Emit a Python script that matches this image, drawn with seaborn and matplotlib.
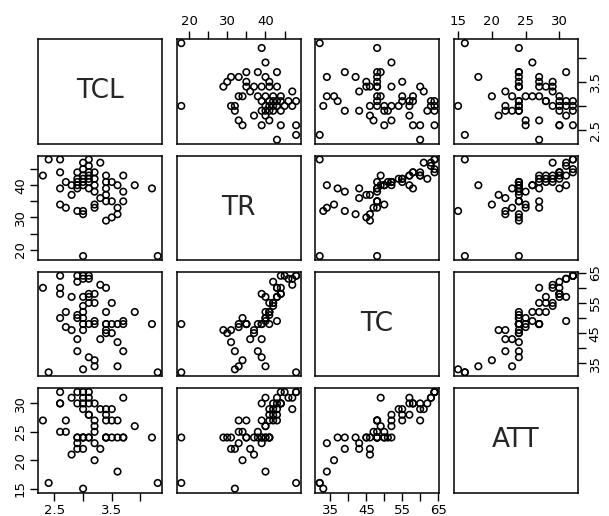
import numpy as np
import pandas as pd
import matplotlib
matplotlib.use("Agg")
import matplotlib.pyplot as plt
import seaborn as sns

tcl = [2.3, 2.4,
       2.6, 2.6, 2.6, 2.6,
       2.7, 2.7,
       2.8, 2.8,
       2.9, 2.9, 2.9, 2.9, 2.9, 2.9,
       3.0, 3.0, 3.0, 3.0, 3.0, 3.0, 3.0, 3.0, 3.0,
       3.1, 3.1, 3.1, 3.1, 3.1, 3.1, 3.1,
       3.2, 3.2, 3.2, 3.2, 3.2, 3.2,
       3.3, 3.3,
       3.4, 3.4, 3.4, 3.4, 3.4, 3.4,
       3.5, 3.5, 3.5,
       3.6, 3.6, 3.6,
       3.7, 3.7, 3.7,
       3.9, 4.2, 4.3]
tr = [43, 48,
      48, 44, 39, 34,
      41, 33,
      40, 37,
      44, 42, 41, 40, 39, 32,
      45, 47, 43, 42, 41, 40, 18, 31, 32,
      48, 46, 44, 43, 42, 41, 39,
      44, 42, 40, 38, 34, 33,
      47, 36,
      43, 41, 39, 35, 29, 37,
      41, 35, 30,
      40, 33, 31,
      43, 35, 38,
      40, 39, 18]
tc = [60, 32,
      64, 60, 58, 50,
      52, 47,
      57, 46,
      64, 62, 51, 50, 43, 39,
      64, 63, 57, 54, 52, 50, 48, 46, 33,
      64, 63, 58, 57, 55, 48, 37,
      58, 55, 49, 48, 36, 34,
      61, 43,
      60, 52, 48, 48, 46, 45,
      55, 48, 45,
      34, 48, 42,
      49, 48, 39,
      52, 48, 32]
att = [27, 16,
       32, 30, 30, 25,
       27, 25,
       31, 21,
       32, 30, 24, 24, 23, 22,
       32, 31, 30, 29, 24, 24, 24, 22, 15,
       32, 31, 30, 28, 28, 24, 24,
       30, 27, 26, 25, 20, 23,
       29, 22,
       29, 28, 27, 24, 24, 24,
       29, 27, 24,
       18, 27, 24,
       31, 24, 24,
       26, 24, 16]

names = ["TCL", "TR", "TC", "ATT"]
tick_pos = {
    "TCL": [2.5, 3.0, 3.5, 4.0],
    "TR": [20, 25, 30, 35, 40, 45],
    "TC": [35, 40, 45, 50, 55, 60, 65],
    "ATT": [15, 20, 25, 30],
}
tick_lab = {
    "TCL": ["2.5", "", "3.5", ""],
    "TR": ["20", "", "30", "", "40", ""],
    "TC": ["35", "", "45", "", "55", "", "65"],
    "ATT": ["15", "20", "25", "30"],
}

sns.set_style("white")
plt.rcParams["font.family"] = ["DejaVu Sans"]

df = pd.DataFrame({"TCL": tcl, "TR": tr, "TC": tc, "ATT": att})


def lims(col):
    lo, hi = df[col].min(), df[col].max()
    pad = 0.04 * (hi - lo)
    return lo - pad, hi + pad


W, H = 609, 516
left, top = 38.3, 39.3
pw, ph = 124, 104.3
gx, gy = 14.4, 12

fig = plt.figure(figsize=(W / 100, H / 100), dpi=100)

for i, yv in enumerate(names):
    for j, xv in enumerate(names):
        x0 = left + j * (pw + gx)
        y0 = top + i * (ph + gy)
        ax = fig.add_axes([x0 / W, 1 - (y0 + ph) / H, pw / W, ph / H])
        ax.set_xlim(lims(xv))
        ax.set_ylim(lims(yv))
        if i == j:
            ax.text(0.5, 0.5, xv, transform=ax.transAxes, ha="center",
                    va="center", fontsize=19)
        else:
            sns.scatterplot(data=df, x=xv, y=yv, ax=ax, marker="o", s=22,
                            facecolor="none", edgecolor="black",
                            linewidth=1.15, legend=False)
        ax.set_xlabel("")
        ax.set_ylabel("")
        for sp in ax.spines.values():
            sp.set_visible(True)
            sp.set_color("black")
            sp.set_linewidth(1.1)
        ax.set_xticks(tick_pos[xv])
        ax.set_xticklabels(tick_lab[xv])
        ax.set_yticks(tick_pos[yv])
        ax.set_yticklabels(tick_lab[yv], rotation=90, va="center")
        ax.tick_params(left=False, right=False, top=False, bottom=False,
                       labelleft=False, labelright=False, labeltop=False,
                       labelbottom=False, length=5.6, width=1.0,
                       labelsize=9.5, pad=2.5, colors="black")
        # R pairs style: axes alternate around the outside of the grid
        if i == 3 and j in (0, 2):
            ax.tick_params(bottom=True, labelbottom=True)
        if i == 0 and j in (1, 3):
            ax.tick_params(top=True, labeltop=True)
        if j == 0 and i in (1, 3):
            ax.tick_params(left=True, labelleft=True)
        if j == 3 and i in (0, 2):
            ax.tick_params(right=True, labelright=True)

plt.savefig("out.png", dpi=100)
plt.close()
